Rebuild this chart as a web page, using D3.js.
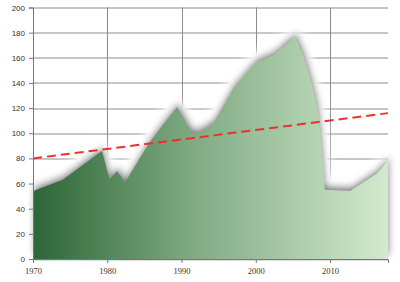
<!DOCTYPE html>
<html>
<head>
<meta charset="utf-8">
<script src="https://cdn.jsdelivr.net/npm/d3@7"></script>
<style>
  body { margin: 0; background: #fff; }
  svg { display: block; }
</style>
</head>
<body>
<div id="chart"></div>
<script>
'use strict';

// data
var years  = [1970, 1974, 1979.3, 1980.3, 1981.3, 1982.4, 1985.5, 1987, 1989.4, 1991.4, 1992.5, 1994.3, 1997, 2000, 2002.4, 2005.3, 2006.5, 2007.5, 2008.3, 2008.7, 2009.3, 2012.7, 2016.3, 2017.8];
var values = [54, 63, 86, 63, 70, 61, 91, 103, 121, 100, 101, 108, 136, 156, 162, 177, 160, 140, 120, 100, 55, 54, 68, 78];
var trendYears  = [1970, 2017.8];
var trendValues = [80, 116];
var yTicks = [0, 20, 40, 60, 80, 100, 120, 140, 160, 180, 200];
var xTicks = [1970, 1980, 1990, 2000, 2010];

var W = 400, H = 282;
var margin = {top: 7.5, right: 12, bottom: 23, left: 33};
var w = W - margin.left - margin.right,
    h = H - margin.top - margin.bottom;

var svg = d3.select("#chart").append("svg")
    .attr("width", W)
    .attr("height", H);

var defs = svg.append("defs");

var grad = defs.append("linearGradient")
    .attr("id", "fillGrad")
    .attr("x1", "0%").attr("x2", "100%")
    .attr("y1", "0%").attr("y2", "0%");
grad.append("stop").attr("offset", "0%").attr("stop-color", "#2c6636");
grad.append("stop").attr("offset", "45%").attr("stop-color", "#80aa82");
grad.append("stop").attr("offset", "100%").attr("stop-color", "#d2eacd");

// soft halo + grey shadow round the area
var f = defs.append("filter").attr("id", "halo")
    .attr("x", "-10%").attr("y", "-20%").attr("width", "120%").attr("height", "140%");
f.append("feGaussianBlur").attr("in", "SourceAlpha").attr("stdDeviation", 7).attr("result", "b1");
f.append("feOffset").attr("in", "b1").attr("dy", -5).attr("result", "o1");
f.append("feComponentTransfer").attr("in", "o1").attr("result", "w1")
  .append("feFuncA").attr("type", "linear").attr("slope", 3);
f.append("feFlood").attr("flood-color", "#ffffff").attr("result", "white");
f.append("feComposite").attr("in", "white").attr("in2", "w1").attr("operator", "in").attr("result", "whiteHalo");
f.append("feGaussianBlur").attr("in", "SourceAlpha").attr("stdDeviation", 3.5).attr("result", "b2");
f.append("feOffset").attr("in", "b2").attr("dx", 1).attr("dy", -4).attr("result", "o2");
f.append("feFlood").attr("flood-color", "#444").attr("flood-opacity", 0.85).attr("result", "grey");
f.append("feComposite").attr("in", "grey").attr("in2", "o2").attr("operator", "in").attr("result", "greyShadow");
var m = f.append("feMerge");
m.append("feMergeNode").attr("in", "whiteHalo");
m.append("feMergeNode").attr("in", "greyShadow");
m.append("feMergeNode").attr("in", "SourceGraphic");

var g = svg.append("g").attr("transform", "translate(" + margin.left + "," + margin.top + ")");

var x = d3.scaleLinear().domain([1970, 2017.8]).range([0, w]);
var y = d3.scaleLinear().domain([0, 200]).range([h, 0]);

// grid
g.append("g").selectAll("line.h")
  .data(yTicks)
  .enter().append("line")
    .attr("x1", 0).attr("x2", w)
    .attr("y1", function(d) { return Math.round(y(d)) + 0.5; })
    .attr("y2", function(d) { return Math.round(y(d)) + 0.5; })
    .style("stroke", "#8c8c8c").style("stroke-width", 1);

g.append("g").selectAll("line.v")
  .data(xTicks.slice(1))
  .enter().append("line")
    .attr("x1", function(d) { return Math.round(x(d)) + 0.5; })
    .attr("x2", function(d) { return Math.round(x(d)) + 0.5; })
    .attr("y1", 0).attr("y2", h)
    .style("stroke", "#8c8c8c").style("stroke-width", 1);

// area
var pts = years.map(function(d, i) { return [d, values[i]]; });
var area = d3.area()
    .x(function(d) { return x(d[0]); })
    .y0(h)
    .y1(function(d) { return y(d[1]); });

g.append("path")
    .datum(pts)
    .attr("d", area)
    .style("fill", "url(#fillGrad)")
    .attr("filter", "url(#halo)");

// trend line
var line = d3.line()
    .x(function(d) { return x(d[0]); })
    .y(function(d) { return y(d[1]); });

g.append("path")
    .datum(trendYears.map(function(d, i) { return [d, trendValues[i]]; }))
    .attr("d", line)
    .style("fill", "none")
    .style("stroke", "#e8332c")
    .style("stroke-width", 2)
    .style("stroke-dasharray", "9,5");

// axes
var yAxis = d3.axisLeft(y).tickValues(yTicks).tickSize(4).tickPadding(4);
var xAxis = d3.axisBottom(x).tickValues(xTicks).tickFormat(d3.format("d")).tickSize(4).tickPadding(5);

var ya = g.append("g").call(yAxis);
ya.select(".domain").style("stroke", "#777");
ya.selectAll(".tick line").style("stroke", "#777");
ya.selectAll("text").style("font-family", "Liberation Sans, Arial, sans-serif")
    .style("font-size", "8px").style("fill", "#333");

var xa = g.append("g").attr("transform", "translate(0," + h + ")").call(xAxis);
xa.select(".domain").style("stroke", "#777");
xa.selectAll(".tick line").style("stroke", "#777");
xa.selectAll("text").style("font-family", "Liberation Serif, Times New Roman, serif")
    .style("font-size", "8.5px").style("fill", "#333");
</script>
</body>
</html>
